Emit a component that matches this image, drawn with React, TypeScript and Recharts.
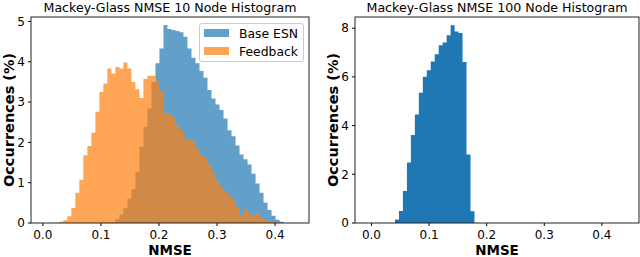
import React from 'react'
import { ComposedChart, Area, XAxis, YAxis } from 'recharts'

/* ---------- data (percent of runs per NMSE bin) ---------- */

const BIN_WIDTH = 0.0069

// 10 node reservoirs: both histograms share one bin grid
const SMALL_BIN_START = 0.0283
const FEEDBACK10_FIRST_BIN = 0
const feedback10 = [
  0.03, 0.07, 0.17, 0.37, 0.75, 1.07, 1.68, 1.91, 2.24, 2.76,
  3.25, 3.46, 3.83, 3.71, 3.87, 3.83, 3.98, 3.83, 3.5, 3.32,
  3.1, 3.57, 3.65, 3.65, 3.5, 3.25, 2.72, 2.72, 2.61, 2.43,
  2.3, 2.1, 2.06, 2.03, 1.85, 1.68, 1.62, 1.45, 1.25, 1.05,
  0.88, 0.8, 0.7, 0.58, 0.4, 0.2, 0.34, 0.24, 0.17, 0.25,
  0.13, 0.08, 0.05, 0.03, 0.01,
]
const BASE10_FIRST_BIN = 11
const base10 = [
  0.01, 0.01, 0.02, 0.09, 0.21, 0.38, 0.61, 0.84, 1.27, 1.89,
  2.39, 2.84, 3.5, 3.96, 4.33, 4.91, 4.81, 4.79, 4.76, 4.73,
  4.62, 4.33, 4.1, 3.96, 3.77, 3.6, 3.3, 3.09, 2.94, 2.8,
  2.59, 2.3, 2.15, 1.92, 1.7, 1.58, 1.45, 1.22, 0.98, 0.75,
  0.5, 0.32, 0.18, 0.08, 0.03,
]

// 100 node reservoir
const LARGE_BIN_START = 0.0408
const base100 = [
  0.14, 0.49, 1.31, 2.48, 3.61, 4.46, 5.35, 6.01, 6.27, 6.63,
  6.93, 7.3, 7.41, 7.71, 8.12, 7.86, 7.8, 6.61, 2.81, 0.48,
]

const xTicks = [0, 0.1, 0.2, 0.3, 0.4]
const yTicks10 = [0, 1, 2, 3, 4, 5]
const yTicks100 = [0, 2, 4, 6, 8]

const BLUE = '#1f77b4'
const ORANGE = '#ff7f0e'
const FONT = '"DejaVu Sans", Verdana, sans-serif'

type Series = { key: string; first: number; values: number[] }

// step-area rows: one row per bin left edge plus the closing right edge
function buildBins(start: number, series: Series[]) {
  const n = Math.max(...series.map((s) => s.first + s.values.length))
  const rows: any[] = []
  for (let i = 0; i <= n; i++) {
    const row: any = { x: start + i * BIN_WIDTH }
    series.forEach((s) => {
      const j = i - s.first
      row[s.key] = j >= 0 && j < s.values.length ? s.values[j] : 0
    })
    rows.push(row)
  }
  return rows
}

const smallData = buildBins(SMALL_BIN_START, [
  { key: 'base', first: BASE10_FIRST_BIN, values: base10 },
  { key: 'feedback', first: FEEDBACK10_FIRST_BIN, values: feedback10 },
])
const largeData = buildBins(LARGE_BIN_START, [{ key: 'base', first: 0, values: base100 }])

/* ---------- layout ---------- */

const H = 257
const PLOT_TOP = 17
const PLOT_BOTTOM = 223

const LEFT = { x: 0, w: 320, plotL: 31, plotR: 309, xDomain: [-0.0205, 0.4585], yMax: 5.11 }
const RIGHT = { x: 320, w: 320, plotL: 35, plotR: 319, xDomain: [-0.0286, 0.4644], yMax: 8.46 }

const tickStyle = { fill: '#000', fontSize: 12, fontFamily: FONT }

function Panel({ cfg, data, yTicks, children }: any) {
  return (
    <div style={{ position: 'absolute', left: cfg.x, top: 0 }}>
      <ComposedChart
        width={cfg.w}
        height={H}
        data={data}
        margin={{ top: PLOT_TOP, right: cfg.w - cfg.plotR, bottom: 0, left: 0 }}
      >
        <XAxis
          dataKey="x"
          type="number"
          domain={cfg.xDomain}
          ticks={xTicks}
          allowDataOverflow
          interval={0}
          height={H - PLOT_BOTTOM}
          tickFormatter={(v: number) => v.toFixed(1)}
          tick={tickStyle}
          tickSize={3}
          tickMargin={4}
          tickLine={{ stroke: '#000' }}
          axisLine={false}
        />
        <YAxis
          type="number"
          domain={[0, cfg.yMax]}
          ticks={yTicks}
          allowDataOverflow
          interval={0}
          width={cfg.plotL}
          tick={tickStyle}
          tickSize={3}
          tickMargin={3}
          tickLine={{ stroke: '#000' }}
          axisLine={false}
        />
        {children}
      </ComposedChart>
    </div>
  )
}

export default function App() {
  const frame = (c: typeof LEFT) => (
    <rect
      x={c.x + c.plotL}
      y={PLOT_TOP}
      width={c.plotR - c.plotL}
      height={PLOT_BOTTOM - PLOT_TOP}
      fill="none"
      stroke="#222"
      strokeWidth={1}
    />
  )
  const midX = (c: typeof LEFT) => c.x + (c.plotL + c.plotR) / 2
  const midY = (PLOT_TOP + PLOT_BOTTOM) / 2

  return (
    <div style={{ position: 'absolute', left: 0, top: 0, width: 640, height: H, background: '#fff', overflow: 'hidden' }}>
      <Panel cfg={LEFT} data={smallData} yTicks={yTicks10}>
        <Area
          type="stepAfter"
          dataKey="base"
          name="Base ESN"
          stroke="none"
          fill={BLUE}
          fillOpacity={0.7}
          dot={false}
          activeDot={false}
          isAnimationActive={false}
        />
        <Area
          type="stepAfter"
          dataKey="feedback"
          name="Feedback"
          stroke="none"
          fill={ORANGE}
          fillOpacity={0.7}
          dot={false}
          activeDot={false}
          isAnimationActive={false}
        />
      </Panel>
      <Panel cfg={RIGHT} data={largeData} yTicks={yTicks100}>
        <Area
          type="stepAfter"
          dataKey="base"
          name="Base ESN"
          stroke="none"
          fill={BLUE}
          fillOpacity={1}
          dot={false}
          activeDot={false}
          isAnimationActive={false}
        />
      </Panel>

      {/* frames, titles, axis labels */}
      <svg width={640} height={H} style={{ position: 'absolute', left: 0, top: 0, pointerEvents: 'none' }}>
        {frame(LEFT)}
        {frame(RIGHT)}
        <g fontFamily={FONT} fill="#000">
          <text x={midX(LEFT)} y={11.5} fontSize={12.6} textAnchor="middle">Mackey-Glass NMSE 10 Node Histogram</text>
          <text x={midX(RIGHT)} y={11.5} fontSize={12.6} textAnchor="middle">Mackey-Glass NMSE 100 Node Histogram</text>
          <text x={midX(LEFT)} y={254.5} fontSize={13.5} fontWeight="bold" textAnchor="middle">NMSE</text>
          <text x={midX(RIGHT)} y={254.5} fontSize={13.5} fontWeight="bold" textAnchor="middle">NMSE</text>
          <text x={14} y={midY} fontSize={14.5} fontWeight="bold" textAnchor="middle" transform={`rotate(-90 14 ${midY})`}>
            Occurrences (%)
          </text>
          <text x={338} y={midY} fontSize={14.5} fontWeight="bold" textAnchor="middle" transform={`rotate(-90 338 ${midY})`}>
            Occurrences (%)
          </text>
        </g>
      </svg>

      {/* legend of the 10 node panel */}
      <div
        style={{
          position: 'absolute',
          left: 199,
          top: 22.5,
          width: 105,
          height: 39,
          boxSizing: 'border-box',
          border: '1px solid #cccccc',
          borderRadius: 3,
          background: 'rgba(255,255,255,0.8)',
          fontFamily: FONT,
          fontSize: 12.4,
          color: '#000',
        }}
      >
        {[
          { label: 'Base ESN', color: BLUE, top: 5 },
          { label: 'Feedback', color: ORANGE, top: 23 },
        ].map((item) => (
          <div key={item.label} style={{ position: 'absolute', left: 3.5, top: item.top, height: 9, display: 'flex', alignItems: 'center' }}>
            <span style={{ width: 25.5, height: 8.5, background: item.color, opacity: 0.7, display: 'inline-block' }} />
            <span style={{ marginLeft: 10, lineHeight: '9px', whiteSpace: 'nowrap' }}>{item.label}</span>
          </div>
        ))}
      </div>
    </div>
  )
}
